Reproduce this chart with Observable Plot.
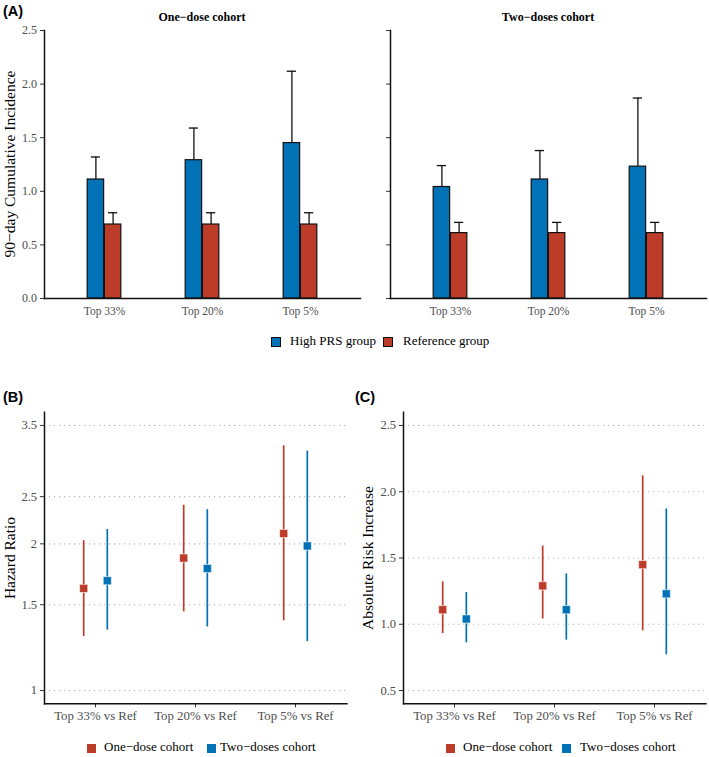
<!DOCTYPE html>
<html><head><meta charset="utf-8">
<script src="https://cdn.jsdelivr.net/npm/d3@7"></script>
<script src="https://cdn.jsdelivr.net/npm/@observablehq/plot@0.6"></script>
<style>
body{margin:0;background:#fff;}
#fig{position:relative;width:709px;height:757px;overflow:hidden;font-family:"Liberation Serif","Times New Roman",serif;background:#fff;}
.abs{position:absolute;white-space:nowrap;}
.tag{font-family:"Liberation Sans",Arial,sans-serif;font-weight:bold;font-size:14.5px;color:#000;}
.ftitle{font-weight:bold;font-size:12px;color:#000;text-align:center;}
.ytitle{font-size:15.5px;color:#000;text-align:center;transform:rotate(-90deg);}
.leg{font-size:13px;color:#000;}
.sq{position:absolute;}
</style></head><body><div id="fig"></div>
<script>
// ---------- Panel A data ----------
const categoriesA = ["Top 33%", "Top 20%", "Top 5%"];
const groupsA = ["High PRS group", "Reference group"];
const oneDoseHigh = [1.11, 1.29, 1.45];
const oneDoseHighUpper = [1.32, 1.59, 2.12];
const oneDoseRef = [0.69, 0.69, 0.69];
const oneDoseRefUpper = [0.80, 0.80, 0.80];
const twoDoseHigh = [1.04, 1.11, 1.23];
const twoDoseHighUpper = [1.24, 1.38, 1.87];
const twoDoseRef = [0.61, 0.61, 0.61];
const twoDoseRefUpper = [0.71, 0.71, 0.71];
const yTicksA = [0, 0.5, 1.0, 1.5, 2.0, 2.5];

// ---------- Panels B & C data ----------
const comparisons = ["Top 33% vs Ref", "Top 20% vs Ref", "Top 5% vs Ref"];
const cohorts = ["One−dose cohort", "Two−doses cohort"];
const hrOne = [1.62, 1.87, 2.10];
const hrOneLower = [1.29, 1.45, 1.39];
const hrOneUpper = [2.03, 2.40, 3.18];
const hrTwo = [1.68, 1.78, 1.98];
const hrTwoLower = [1.33, 1.35, 1.26];
const hrTwoUpper = [2.14, 2.35, 3.10];
const yTicksB = [1, 1.5, 2, 2.5, 3.5];

const ariOne = [1.11, 1.29, 1.45];
const ariOneLower = [0.93, 1.04, 0.95];
const ariOneUpper = [1.32, 1.59, 2.12];
const ariTwo = [1.04, 1.11, 1.23];
const ariTwoLower = [0.86, 0.88, 0.77];
const ariTwoUpper = [1.24, 1.38, 1.87];
const yTicksC = [0.5, 1.0, 1.5, 2.0, 2.5];

const BLUE = "#0072B5", RED = "#BC3C29";
const TICKCOL = "#4d4d4d";
const fig = document.getElementById("fig");

function place(node, left, top) {
  node.style.position = "absolute";
  node.style.left = left + "px";
  node.style.top = top + "px";
  fig.appendChild(node);
}
function addText(cls, text, left, top, extra) {
  const d = document.createElement("div");
  d.className = "abs " + cls;
  d.textContent = text;
  d.style.left = left + "px";
  d.style.top = top + "px";
  if (extra) Object.assign(d.style, extra);
  fig.appendChild(d);
  return d;
}
function yTitle(text, cx, cy) {
  const w = 300, h = 20;
  addText("ytitle", text, cx - w / 2, cy - h / 2, {width: w + "px", height: h + "px", lineHeight: h + "px"});
}
function square(left, top, size, color, border) {
  const d = document.createElement("div");
  d.className = "sq";
  Object.assign(d.style, {left: left + "px", top: top + "px", width: size + "px", height: size + "px",
    background: color, boxSizing: "border-box", border: border || "none"});
  fig.appendChild(d);
}

// ---------- Panel A ----------
function barPanel(high, highUp, ref, refUp, showLabels) {
  const mL = 44, plotW = 316, mR = 4;
  const band = plotW / 3.2, half = band / 2, barW = 17.2, capHalf = 5;
  const rows = [];
  categoriesA.forEach((c, i) => {
    rows.push({cat: c, group: groupsA[0], value: high[i], upper: highUp[i]});
    rows.push({cat: c, group: groupsA[1], value: ref[i], upper: refUp[i]});
  });
  const hi = rows.filter(d => d.group === groupsA[0]);
  const lo = rows.filter(d => d.group === groupsA[1]);
  const cap = (data, off) => Plot.tickY(data, {x: "cat", y: "upper", stroke: "#111", strokeWidth: 1.3,
    insetLeft: half + off - capHalf, insetRight: half - off - capHalf});
  return Plot.plot({
    width: mL + plotW + mR, height: 320,
    marginLeft: mL, marginRight: mR, marginTop: 30, marginBottom: 22,
    style: {background: "transparent", fontFamily: "Liberation Serif, serif", overflow: "visible"},
    x: {domain: categoriesA, paddingInner: 0, paddingOuter: 0.1, label: null},
    y: {domain: [0, 2.5], label: null},
    marks: [
      Plot.axisX({tickSize: 0, tickPadding: 8.5, fontSize: 11.5, fill: TICKCOL, label: null}),
      Plot.axisY({ticks: yTicksA, tickSize: 4, tickPadding: 3.5, fontSize: 12, fill: TICKCOL, stroke: "#333",
        tickFormat: showLabels ? d3.format(".1f") : () => "", label: null}),
      Plot.ruleX(hi, {x: "cat", y1: "value", y2: "upper", dx: -barW / 2, stroke: "#111", strokeWidth: 1.3}),
      Plot.ruleX(lo, {x: "cat", y1: "value", y2: "upper", dx: barW / 2, stroke: "#111", strokeWidth: 1.3}),
      cap(hi, -barW / 2),
      cap(lo, barW / 2),
      Plot.barY(hi, {x: "cat", y: "value", fill: BLUE, stroke: "#111", strokeWidth: 1.2,
        insetLeft: half - barW, insetRight: half}),
      Plot.barY(lo, {x: "cat", y: "value", fill: RED, stroke: "#111", strokeWidth: 1.2,
        insetLeft: half, insetRight: half - barW}),
      Plot.frame({anchor: "left", stroke: "#111", strokeWidth: 1.5}),
      Plot.frame({anchor: "bottom", stroke: "#111", strokeWidth: 1.5})
    ]
  });
}
place(barPanel(oneDoseHigh, oneDoseHighUpper, oneDoseRef, oneDoseRefUpper, true), 0, 0);
place(barPanel(twoDoseHigh, twoDoseHighUpper, twoDoseRef, twoDoseRefUpper, false), 346, 0);

addText("tag", "(A)", 3, 3);
addText("ftitle", "One−dose cohort", 102, 10, {width: "200px"});
addText("ftitle", "Two−doses cohort", 448, 10, {width: "200px"});
yTitle("90−day Cumulative Incidence", 10, 164);

// legend A
square(271, 337, 10, BLUE, "1px solid #111");
addText("leg", "High PRS group", 290, 333);
square(383, 337, 10, RED, "1px solid #111");
addText("leg", "Reference group", 403, 333);

// ---------- Panels B & C ----------
function rangePanel(one, oneLo, oneHi, two, twoLo, twoHi, yOpts, yTicks, fmt) {
  const mL = 44, plotW = 302.4, mR = 3.6;
  const step = plotW / 3.2, off = 0.125 * step;
  const rows = [];
  comparisons.forEach((c, i) => {
    rows.push({cmp: c, cohort: cohorts[0], est: one[i], lo: oneLo[i], hi: oneHi[i]});
    rows.push({cmp: c, cohort: cohorts[1], est: two[i], lo: twoLo[i], hi: twoHi[i]});
  });
  const r1 = rows.filter(d => d.cohort === cohorts[0]);
  const r2 = rows.filter(d => d.cohort === cohorts[1]);
  return Plot.plot({
    width: mL + plotW + mR, height: 377,
    marginLeft: mL, marginRight: mR, marginTop: 31.7, marginBottom: 53.7,
    style: {background: "transparent", fontFamily: "Liberation Serif, serif", overflow: "visible"},
    x: {domain: comparisons, paddingInner: 0, paddingOuter: 0.1, label: null},
    y: {...yOpts, label: null},
    marks: [
      Plot.ruleY(yTicks, {stroke: "#b5b5b5", strokeWidth: 1.1, strokeDasharray: "1.2,3.8"}),
      Plot.axisX({tickSize: 4, tickPadding: 3, fontSize: 12.8, fill: TICKCOL, stroke: "#333", label: null}),
      Plot.axisY({ticks: yTicks, tickSize: 4, tickPadding: 3.5, fontSize: 12.5, fill: TICKCOL, stroke: "#333",
        tickFormat: fmt, label: null}),
      Plot.ruleX(r1, {x: "cmp", y1: "lo", y2: "hi", dx: -off, stroke: RED, strokeWidth: 1.7}),
      Plot.ruleX(r2, {x: "cmp", y1: "lo", y2: "hi", dx: off, stroke: BLUE, strokeWidth: 1.7}),
      Plot.dot(r1, {x: "cmp", y: "est", dx: -off, symbol: "square", r: 4.6, fill: RED, stroke: "white", strokeWidth: 0.6}),
      Plot.dot(r2, {x: "cmp", y: "est", dx: off, symbol: "square", r: 4.6, fill: BLUE, stroke: "white", strokeWidth: 0.6}),
      Plot.frame({anchor: "left", stroke: "#111", strokeWidth: 1.5}),
      Plot.frame({anchor: "bottom", stroke: "#111", strokeWidth: 1.5})
    ]
  });
}

place(rangePanel(hrOne, hrOneLower, hrOneUpper, hrTwo, hrTwoLower, hrTwoUpper,
  {type: "log", domain: [0.939, 3.726]}, yTicksB, d => String(d)), 0, 380);
place(rangePanel(ariOne, ariOneLower, ariOneUpper, ariTwo, ariTwoLower, ariTwoUpper,
  {type: "linear", domain: [0.4, 2.6]}, yTicksC, d3.format(".1f")), 359, 380);

addText("tag", "(B)", 3, 389);
addText("tag", "(C)", 355, 389);
yTitle("Hazard Ratio", 9.5, 558);
yTitle("Absolute Risk Increase", 368, 558);

// legend B
square(87, 744, 8.5, RED);
addText("leg", cohorts[0], 104, 739);
square(207, 744, 8.5, BLUE);
addText("leg", cohorts[1], 220, 739);
// legend C
square(446, 744, 8.5, RED);
addText("leg", cohorts[0], 463, 739);
square(562, 744, 8.5, BLUE);
addText("leg", cohorts[1], 580, 739);
</script></body></html>
